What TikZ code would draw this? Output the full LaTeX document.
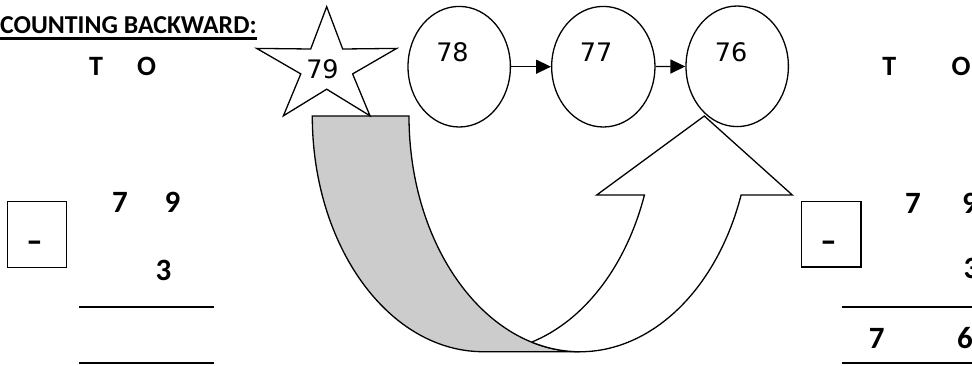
\documentclass[tikz,border=0pt]{standalone}
\usepackage{fontspec}
\setmainfont{Carlito}
\newfontfamily\numfont{DejaVu Sans}
\usetikzlibrary{shapes.geometric,arrows.meta}
\tikzset{
  outline/.style={draw=black,line width=1.3pt},
  bandstyle/.style={outline,fill=black!20,line join=miter},
  upstyle/.style={outline,fill=white,line join=miter},
  bubble/.style={ellipse,draw=black,line width=1.3pt,inner sep=0pt,minimum width=102.4pt,minimum height=120.6pt},
  num/.style={font=\numfont\fontsize{25.5}{28}\selectfont,inner sep=0pt},
  head/.style={font=\bfseries\fontsize{28}{32}\selectfont,inner sep=0pt,anchor=base},
  digit/.style={font=\bfseries\fontsize{31}{35}\selectfont,inner sep=0pt,anchor=base},
  opbox/.style={rectangle,draw=black,line width=1.3pt,inner sep=0pt,minimum width=59.4pt,minimum height=65.6pt},
  conn/.style={line width=1.4pt,-{Triangle[length=15pt,width=14pt]}},
  rule/.style={line width=1.8pt}
}
\begin{document}
\begin{tikzpicture}[x=1pt,y=1pt]
\useasboundingbox (0,0) rectangle (972,-365);
% title
\node[font=\bfseries\fontsize{25.8}{30}\selectfont,inner sep=0pt,anchor=base west] (title) at (0,-33) {COUNTING BACKWARD:};
\draw[line width=2.6pt] ([yshift=-5.5pt]title.base west) -- ([yshift=-5.5pt]title.base east);
% left column
\node[head] (lT) at (96,-75) {T};
\node[head] (lO) at (146.7,-75) {O};
\node[digit] (l7) at (120,-212) {7};
\node[digit] (l9) at (172.5,-212) {9};
\node[digit] (l3) at (163.5,-280) {3};
\node[opbox] (lbox) at (37,-234.5) {};
\node[digit] (lminus) at (34.5,-251.4) {\scalebox{1.5}[1]{-}};
\coordinate (la1) at (79.3,-306.7); \coordinate (lb1) at (214.3,-306.7);
\coordinate (la2) at (79.3,-363.3); \coordinate (lb2) at (214.3,-363.3);
\draw[rule] (la1) -- (lb1);
\draw[rule] (la2) -- (lb2);
% right column
\node[head] (rT) at (889.2,-75) {T};
\node[head] (rO) at (961,-75) {O};
\node[digit] (r7) at (913,-213) {7};
\node[digit] (r9) at (970,-213) {9};
\node[digit] (r3) at (971.5,-278) {3};
\node[opbox] (rbox) at (831.2,-234.2) {};
\node[digit] (rminus) at (828.5,-251.4) {\scalebox{1.5}[1]{-}};
\node[digit] (r7b) at (876.7,-348) {7};
\node[digit] (r6) at (965,-348) {6};
\coordinate (ra1) at (841.7,-306.7); \coordinate (rb1) at (980,-306.7);
\coordinate (ra2) at (841.7,-363.3); \coordinate (rb2) at (980,-363.3);
\draw[rule] (ra1) -- (rb1);
\draw[rule] (ra2) -- (rb2);
% curved arrow: back band
\draw[bandstyle] (312.3,-116) -- (409,-116)
  arc[start angle=180,end angle=270,x radius=171pt,y radius=235.7pt]
  -- (483.3,-351.7)
  arc[start angle=270,end angle=180,x radius=171pt,y radius=235.7pt] -- cycle;
% curved arrow: front part with head
\draw[upstyle] (531.65,-342.1)
  arc[start angle=-73.58,end angle=-19.58,x radius=171pt,y radius=235.7pt]
  -- (596.7,-195) -- (704.3,-116) -- (792.3,-195) -- (741.1,-195)
  arc[start angle=-19.58,end angle=-106.42,x radius=171pt,y radius=235.7pt] -- cycle;
% star
\draw[outline,fill=white,line join=miter]
  (326.7,-6.7) -- (342.7,-49.0) -- (396.7,-48.4) -- (352.6,-73.9) -- (370.0,-115.8)
  -- (326.7,-89.2) -- (283.4,-115.8) -- (300.8,-73.9) -- (256.7,-48.4) -- (310.7,-49.0) -- cycle;
\node[num] (t79) at (322.5,-69.7) {79};
% bubbles
\node[bubble] (e78) at (459.2,-66.7) {};
\node[bubble,minimum width=103.3pt] (e77) at (603.3,-66.7) {};
\node[bubble] (e76) at (737.2,-66.3) {};
\node[num] (t78) at ([shift={(-6.7,14.2)}]e78.center) {78};
\node[num] (t77) at ([shift={(-7.3,14.7)}]e77.center) {77};
\node[num] (t76) at ([shift={(-6.2,14.3)}]e76.center) {76};
\draw[conn] (e78) -- (e77);
\draw[conn] (e77) -- (e76);
\end{tikzpicture}
\end{document}
